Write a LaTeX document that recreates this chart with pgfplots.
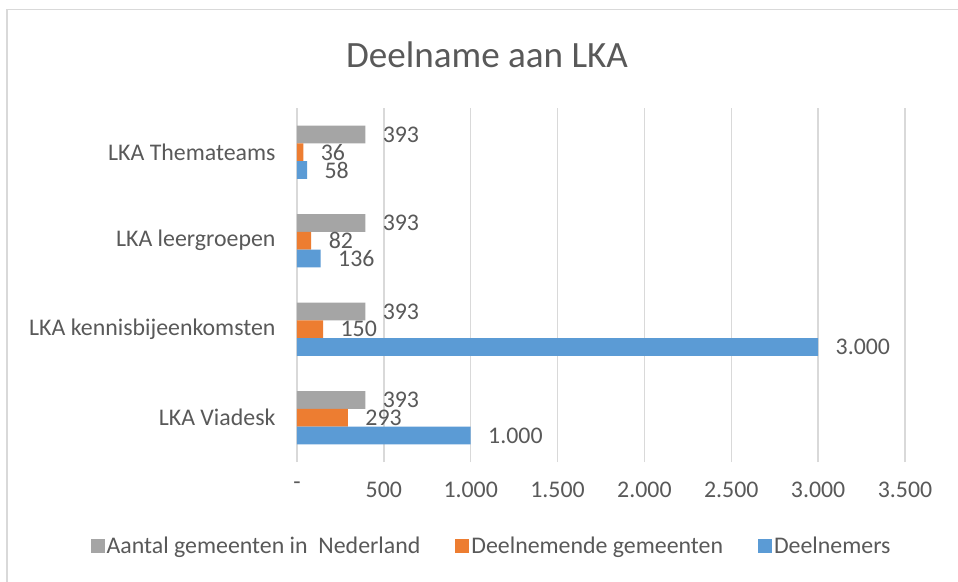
\documentclass[border=0pt]{standalone}
\usepackage{fontspec}
\setmainfont{Carlito}
\usepackage{pgfplots}
\pgfplotsset{compat=1.18}
\definecolor{cgrey}{HTML}{A5A5A5}
\definecolor{corange}{HTML}{ED7D31}
\definecolor{cblue}{HTML}{5B9BD5}
\definecolor{ctext}{HTML}{595959}
\definecolor{cgrid}{HTML}{D9D9D9}
\newcommand{\lbl}{\fontsize{23.85pt}{28pt}\selectfont}
\begin{document}
\begin{tikzpicture}
\clip (0,0) rectangle (958pt,581pt);
\fill[white] (0,0) rectangle (958pt,581pt);
\draw[cgrid, line width=1.4pt] (7pt,-20pt) -- (7pt,571.5pt) -- (1000pt,571.5pt);
\begin{axis}[
  at={(297pt,119pt)}, anchor=south west,
  scale only axis, width=608pt, height=354pt,
  xbar, bar width=17.7pt,
  xmin=0, xmax=3500, ymin=-0.5, ymax=3.5,
  axis line style={draw=none},
  major tick length=0pt,
  xmajorgrids, grid style={cgrid, line width=1.3pt},
  xtick={0,500,...,3500},
  xticklabels={-,500,1.000,1.500,2.000,2.500,3.000,3.500},
  ytick={0,1,2,3},
  yticklabels={LKA Viadesk, LKA kennisbijeenkomsten, LKA leergroepen, LKA Themateams},
  tick label style={font=\lbl, text=ctext},
  xticklabel style={yshift=-16pt},
  yticklabel style={xshift=-18pt},
  nodes near coords,
  nodes near coords style={font=\lbl, text=ctext, anchor=west, xshift=14pt},
  /pgf/number format/1000 sep={.},
  /pgf/number format/assume math mode=true,
  legend style={at={(0.320,-0.237)}, anchor=center, draw=none, fill=none,
    font=\lbl, text=ctext, legend columns=3,
    nodes={inner sep=2pt},
    /tikz/every even column/.append style={column sep=33pt}},
  legend image code/.code={\fill[#1] (0pt,-7pt) rectangle (14pt,7pt);},
]
\addplot[fill=cgrey, draw=none, bar shift=17.7pt] coordinates {(393,0) (393,1) (393,2) (393,3)};
\addlegendentry{Aantal gemeenten in\ \ Nederland}
\addplot[fill=corange, draw=none, bar shift=0pt] coordinates {(293,0) (150,1) (82,2) (36,3)};
\addlegendentry{Deelnemende gemeenten}
\addplot[fill=cblue, draw=none, bar shift=-17.7pt] coordinates {(1000,0) (3000,1) (136,2) (58,3)};
\addlegendentry{Deelnemers}
\end{axis}
\node[font=\fontsize{37.1pt}{44pt}\selectfont, text=ctext] at (487pt,526pt) {Deelname aan LKA};
\end{tikzpicture}
\end{document}
